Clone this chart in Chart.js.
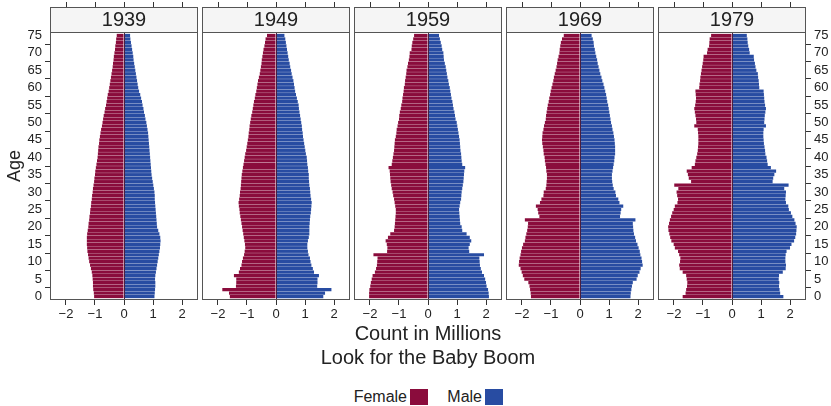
<!DOCTYPE html>
<html>
<head>
<meta charset="utf-8">
<script src="https://cdn.jsdelivr.net/npm/chart.js@4.4.1/dist/chart.umd.min.js"></script>
<style>
  body { margin: 0; width: 831px; height: 406px; background: #fff; position: relative; overflow: hidden;
         font-family: "Liberation Sans", Arial, sans-serif; color: #222; }
  canvas { position: absolute; top: 0; }
  .t { position: absolute; white-space: nowrap; line-height: 1; }
  .box { position: absolute; width: 18px; height: 16px; }
</style>
</head>
<body>
<canvas id="p0" width="200" height="330" style="left:0px"></canvas>
<canvas id="p1" width="152" height="330" style="left:200px"></canvas>
<canvas id="p2" width="152" height="330" style="left:352px"></canvas>
<canvas id="p3" width="152" height="330" style="left:504px"></canvas>
<canvas id="p4" width="175" height="330" style="left:656px"></canvas>

<div class="t" style="left:-2px;top:157px;font-size:18px;transform:rotate(-90deg);">Age</div>
<div class="t" style="left:0;width:856px;text-align:center;top:323px;font-size:20px;">Count in Millions</div>
<div class="t" style="left:0;width:856px;text-align:center;top:347px;font-size:20px;">Look for the Baby Boom</div>
<div class="t" style="left:300px;width:107px;text-align:right;top:389px;font-size:16px;">Female</div>
<div class="box" style="left:410px;top:389px;background:#8A0C3C;"></div>
<div class="t" style="left:400px;width:82px;text-align:right;top:389px;font-size:16px;">Male</div>
<div class="box" style="left:485px;top:389px;background:#284CA2;"></div>

<script>
// ages 0..75, tick labels
const ages = [0,1,2,3,4,5,6,7,8,9,10,11,12,13,14,15,16,17,18,19,20,21,22,23,24,25,26,27,28,29,
  30,31,32,33,34,35,36,37,38,39,40,41,42,43,44,45,46,47,48,49,50,51,52,53,54,55,56,57,58,59,
  60,61,62,63,64,65,66,67,68,69,70,71,72,73,74,75];
const ageTicks = [0,5,10,15,20,25,30,35,40,45,50,55,60,65,70,75];
const xTicks = [-2,-1,0,1,2];
const years = ['1939','1949','1959','1969','1979'];

// counts in millions, by age 0..75
const female1939 = [1.03,1.04,1.06,1.07,1.07,1.08,1.09,1.11,1.14,1.17,1.20,1.22,1.24,1.26,1.27,1.28,1.28,1.28,1.27,1.25,
  1.23,1.22,1.20,1.19,1.17,1.16,1.14,1.13,1.11,1.10,1.08,1.07,1.05,1.03,1.02,1.00,0.99,0.97,0.95,0.93,
  0.91,0.90,0.89,0.88,0.86,0.85,0.83,0.81,0.79,0.76,0.74,0.72,0.70,0.67,0.65,0.62,0.60,0.58,0.56,0.53,
  0.51,0.49,0.47,0.45,0.43,0.41,0.39,0.38,0.36,0.35,0.33,0.31,0.30,0.28,0.27,0.25];
const male1939 = [1.05,1.06,1.07,1.08,1.08,1.07,1.08,1.10,1.12,1.14,1.16,1.18,1.20,1.22,1.24,1.25,1.26,1.25,1.22,1.18,
  1.14,1.13,1.12,1.11,1.10,1.09,1.08,1.07,1.06,1.06,1.05,1.03,1.01,0.99,0.97,0.95,0.94,0.93,0.92,0.91,
  0.90,0.89,0.88,0.87,0.86,0.85,0.84,0.83,0.81,0.79,0.77,0.74,0.72,0.69,0.67,0.64,0.62,0.59,0.56,0.52,
  0.49,0.47,0.45,0.43,0.41,0.39,0.37,0.35,0.33,0.32,0.30,0.28,0.26,0.24,0.22,0.21];

const female1949 = [1.59,1.62,1.85,1.38,1.37,1.37,1.45,1.28,1.24,1.19,1.17,1.14,1.10,1.08,1.06,1.07,1.09,1.11,1.13,1.15,
  1.17,1.19,1.21,1.23,1.25,1.26,1.28,1.29,1.27,1.25,1.24,1.22,1.21,1.20,1.19,1.18,1.16,1.14,1.12,1.10,
  1.08,1.06,1.03,1.01,0.99,0.97,0.95,0.94,0.92,0.91,0.89,0.87,0.85,0.82,0.80,0.78,0.76,0.73,0.71,0.68,
  0.66,0.64,0.62,0.59,0.56,0.54,0.52,0.50,0.49,0.47,0.45,0.43,0.40,0.38,0.36,0.31];
const male1949 = [1.63,1.69,1.91,1.42,1.43,1.43,1.48,1.31,1.27,1.22,1.19,1.17,1.12,1.10,1.08,1.08,1.10,1.13,1.15,1.15,
  1.15,1.16,1.17,1.18,1.20,1.21,1.22,1.23,1.21,1.19,1.18,1.17,1.15,1.14,1.13,1.13,1.11,1.10,1.08,1.07,
  1.06,1.03,1.01,0.99,0.97,0.95,0.93,0.92,0.90,0.89,0.87,0.85,0.83,0.81,0.79,0.78,0.75,0.72,0.69,0.66,
  0.64,0.62,0.60,0.57,0.54,0.52,0.49,0.47,0.44,0.42,0.40,0.38,0.36,0.34,0.32,0.29];

const female1959 = [2.03,2.03,2.02,1.99,1.97,1.94,1.91,1.83,1.79,1.76,1.75,1.74,1.88,1.41,1.40,1.42,1.46,1.38,1.30,1.17,
  1.15,1.14,1.13,1.12,1.11,1.11,1.13,1.15,1.17,1.20,1.22,1.25,1.27,1.29,1.30,1.31,1.32,1.36,1.25,1.23,
  1.21,1.19,1.17,1.16,1.15,1.14,1.11,1.09,1.08,1.05,1.03,1.00,0.99,0.97,0.94,0.92,0.89,0.88,0.86,0.84,
  0.83,0.80,0.79,0.77,0.75,0.74,0.71,0.69,0.66,0.64,0.63,0.57,0.56,0.54,0.51,0.48];
const male1959 = [2.10,2.09,2.07,2.02,2.00,1.97,1.93,1.86,1.82,1.79,1.78,1.77,1.93,1.42,1.40,1.44,1.49,1.44,1.33,1.18,
  1.16,1.11,1.10,1.09,1.08,1.07,1.09,1.11,1.14,1.15,1.16,1.18,1.20,1.22,1.23,1.24,1.25,1.28,1.18,1.16,
  1.15,1.14,1.12,1.11,1.10,1.09,1.07,1.05,1.03,1.01,0.99,0.95,0.93,0.91,0.88,0.86,0.84,0.81,0.79,0.77,
  0.75,0.72,0.70,0.67,0.65,0.63,0.61,0.58,0.55,0.54,0.53,0.49,0.47,0.44,0.41,0.38];

const female1969 = [1.69,1.70,1.72,1.74,1.78,1.92,1.97,2.01,2.05,2.11,2.10,2.08,2.05,2.03,2.00,1.96,1.90,1.88,1.85,1.82,
  1.80,1.79,1.90,1.40,1.44,1.46,1.52,1.38,1.33,1.26,1.25,1.18,1.16,1.15,1.14,1.14,1.16,1.17,1.19,1.21,
  1.22,1.25,1.26,1.28,1.30,1.31,1.30,1.29,1.26,1.24,1.21,1.18,1.17,1.15,1.13,1.11,1.08,1.06,1.03,1.01,
  0.98,0.95,0.92,0.90,0.87,0.84,0.81,0.79,0.77,0.74,0.71,0.70,0.68,0.66,0.62,0.56];
const male1969 = [1.74,1.75,1.77,1.79,1.82,1.95,1.99,2.05,2.09,2.16,2.14,2.12,2.08,2.06,2.02,1.98,1.93,1.90,1.86,1.84,
  1.83,1.82,1.91,1.38,1.40,1.42,1.49,1.36,1.32,1.24,1.22,1.16,1.13,1.11,1.10,1.10,1.12,1.14,1.16,1.18,
  1.19,1.21,1.21,1.21,1.20,1.19,1.17,1.15,1.12,1.10,1.07,1.05,1.03,1.01,0.99,0.97,0.94,0.92,0.90,0.87,
  0.84,0.81,0.77,0.74,0.70,0.67,0.64,0.61,0.59,0.56,0.53,0.51,0.48,0.47,0.44,0.40];

const female1979 = [1.70,1.60,1.58,1.55,1.54,1.56,1.58,1.70,1.80,1.82,1.79,1.78,1.82,1.86,1.97,2.01,2.09,2.13,2.16,2.19,
  2.20,2.17,2.14,2.10,2.06,2.01,1.97,1.88,1.86,1.89,1.91,1.85,1.99,1.41,1.49,1.52,1.56,1.39,1.28,1.26,
  1.23,1.20,1.18,1.17,1.16,1.16,1.16,1.17,1.18,1.30,1.23,1.24,1.26,1.28,1.30,1.27,1.25,1.24,1.25,1.26,
  1.13,1.12,1.10,1.09,1.07,1.05,1.03,1.01,0.99,0.98,0.86,0.84,0.79,0.78,0.77,0.72];
const male1979 = [1.77,1.66,1.64,1.62,1.63,1.61,1.62,1.75,1.85,1.86,1.84,1.84,1.85,1.88,2.00,2.05,2.14,2.18,2.21,2.22,
  2.23,2.19,2.15,2.08,2.03,1.96,1.94,1.86,1.84,1.85,1.86,1.80,1.95,1.40,1.42,1.46,1.52,1.34,1.23,1.21,
  1.19,1.15,1.14,1.12,1.10,1.09,1.08,1.08,1.09,1.17,1.11,1.12,1.13,1.15,1.17,1.14,1.12,1.11,1.10,1.09,
  0.94,0.93,0.92,0.90,0.89,0.84,0.81,0.79,0.76,0.75,0.61,0.59,0.56,0.54,0.53,0.51];

const femaleByYear = [female1939, female1949, female1959, female1969, female1979];
const maleByYear = [male1939, male1949, male1959, male1969, male1979];

const FEMALE = '#8A0C3C';
const MALE = '#284CA2';

Chart.defaults.font.family = '"Liberation Sans", Arial, sans-serif';
Chart.defaults.color = '#222';

// panel frame, zero line, strip and top tick marks
const frame = {
  id: 'frame',
  afterDatasetsDraw(chart, args, opts) {
    const ctx = chart.ctx, a = chart.chartArea, x = chart.scales.x;
    ctx.save();
    ctx.lineWidth = 1;
    const x0 = Math.floor(x.getPixelForValue(0)) + 0.5;
    ctx.strokeStyle = '#4a2040';
    ctx.beginPath(); ctx.moveTo(x0, a.top); ctx.lineTo(x0, a.bottom); ctx.stroke();
    ctx.strokeStyle = '#555';
    ctx.strokeRect(Math.round(a.left) + 0.5, Math.round(a.top) + 0.5, Math.round(a.width) - 1, Math.round(a.height) - 1);
    ctx.fillStyle = '#f5f5f5';
    ctx.fillRect(Math.round(a.left), 7, Math.round(a.width), 25);
    ctx.strokeRect(Math.round(a.left) + 0.5, 7.5, Math.round(a.width) - 1, 25);
    ctx.strokeStyle = '#333';
    xTicks.forEach(v => {
      const px = Math.round(x.getPixelForValue(v)) + 0.5;
      ctx.beginPath(); ctx.moveTo(px, 2); ctx.lineTo(px, 7); ctx.stroke();
    });
    ctx.fillStyle = '#222';
    ctx.font = '20px "Liberation Sans", Arial, sans-serif';
    ctx.textAlign = 'center';
    ctx.textBaseline = 'middle';
    ctx.fillText(opts.label, (a.left + a.right) / 2, 20.5);
    ctx.restore();
  }
};

function makePanel(i) {
  const fem = femaleByYear[i], mal = maleByYear[i];
  const first = i === 0, last = i === 4;
  const ctx = document.getElementById('p' + i).getContext('2d');
  new Chart(ctx, {
    type: 'bar',
    data: {
      datasets: [
        { label: 'Female', data: ages.map((a, k) => ({ x: -fem[k], y: a })),
          backgroundColor: FEMALE, categoryPercentage: 0.93, barPercentage: 1 },
        { label: 'Male', data: ages.map((a, k) => ({ x: mal[k], y: a })),
          backgroundColor: MALE, categoryPercentage: 0.93, barPercentage: 1 }
      ]
    },
    options: {
      indexAxis: 'y',
      responsive: false,
      animation: false,
      layout: { padding: { top: 32, left: first ? 0 : 2, right: last ? 0 : 2, bottom: 0 } },
      plugins: { legend: { display: false }, tooltip: { enabled: false }, frame: { label: years[i] } },
      scales: {
        x: {
          type: 'linear', stacked: true, min: -2.55, max: 2.55, offset: false,
          afterBuildTicks: s => { s.ticks = xTicks.map(v => ({ value: v })); },
          afterFit: s => { s.height = 30; },
          grid: { drawOnChartArea: false, tickLength: 5, color: '#333' },
          border: { display: false },
          ticks: { padding: 2, maxRotation: 0, autoSkip: false, font: { size: 13 }, color: '#222',
                   callback: v => v < 0 ? '\u2212' + Math.abs(v) : String(v) }
        },
        y: {
          type: 'linear', stacked: true, min: -1, max: 76, offset: false,
          display: first || last,
          position: last ? 'right' : 'left',
          afterBuildTicks: s => { s.ticks = ageTicks.map(v => ({ value: v })); },
          afterFit: s => { s.width = first ? 50 : (last ? 25 : 0); },
          grid: { drawOnChartArea: false, tickLength: 5, color: '#333' },
          border: { display: false },
          ticks: { padding: 3, autoSkip: false, font: { size: 13 }, color: '#222' }
        }
      }
    },
    plugins: [frame]
  });
}

for (let i = 0; i < 5; i++) makePanel(i);
</script>
</body>
</html>
